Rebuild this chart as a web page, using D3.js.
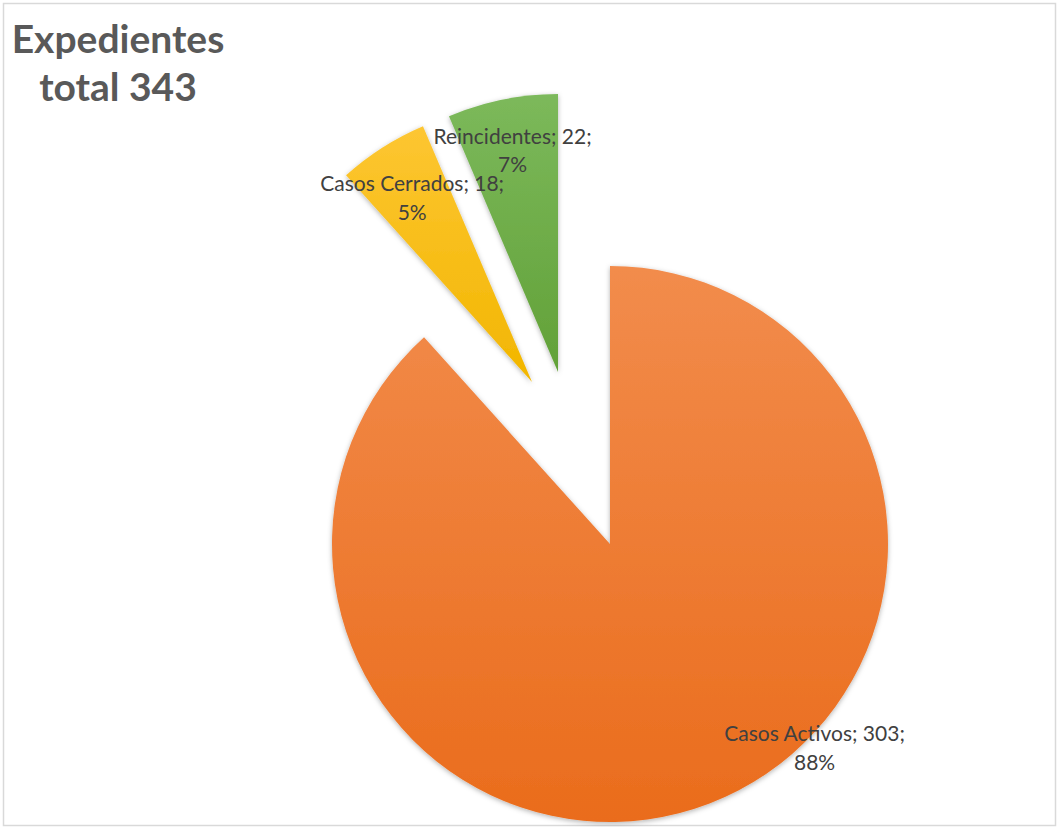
<!DOCTYPE html>
<html><head><meta charset="utf-8">
<script src="https://cdn.jsdelivr.net/npm/d3@7"></script>
<style>html,body{margin:0;padding:0;background:#fff;}</style>
</head><body>
<svg id="c" width="1058" height="827"></svg>
<script>
const categories = ["Casos Activos", "Casos Cerrados", "Reincidentes"];
const values = [303, 18, 22];
const percents = ["88%", "5%", "7%"];
const titleLines = ["Expedientes", "total 343"];

// layout (not data)
const W = 1058, H = 827;
const cx = 610, cy = 544, R = 278;
const explode = [[0, 0], [-78, -162], [-52, -172]];
const labelPos = [[134.4, 1.03], [327.4, 0.80], [348.6, 0.826]];
const grads = [["#f28c4c", "#ea6c1c"], ["#fdc632", "#f2b600"], ["#7cb95b", "#62a138"]];

const svg = d3.select("#c");
svg.append("rect").attr("x", 3.5).attr("y", 3.5).attr("width", W - 6).attr("height", H - 5)
  .attr("fill", "#fff").attr("stroke", "#d9d9d9").attr("stroke-width", 1.5);

const defs = svg.append("defs");
grads.forEach((g, i) => {
  const lg = defs.append("linearGradient").attr("id", "g" + i).attr("x1", 0).attr("y1", 0).attr("x2", 0).attr("y2", 1);
  lg.append("stop").attr("offset", "0%").attr("stop-color", g[0]);
  lg.append("stop").attr("offset", "100%").attr("stop-color", g[1]);
});
const f = defs.append("filter").attr("id", "sh").attr("x", "-10%").attr("y", "-10%").attr("width", "130%").attr("height", "130%");
f.append("feDropShadow").attr("dx", 0).attr("dy", 1.5).attr("stdDeviation", 2.5).attr("flood-color", "#000").attr("flood-opacity", 0.3);

svg.append("g").selectAll("text").data(titleLines).join("text")
  .attr("x", 118).attr("y", (d, i) => 53 + i * 48)
  .attr("text-anchor", "middle")
  .attr("font-family", "Lato, 'Open Sans', sans-serif").attr("font-weight", "bold")
  .attr("font-size", 39).attr("fill", "#595959").text(d => d);

const pie = d3.pie().sort(null).value(d => d);
const arcs = pie(values);
const arc = d3.arc().innerRadius(0).outerRadius(R);

const g = svg.append("g").attr("transform", `translate(${cx},${cy})`);
g.selectAll("path").data(arcs).join("path")
  .attr("transform", (d, i) => `translate(${explode[i][0]},${explode[i][1]})`)
  .attr("d", arc)
  .attr("fill", (d, i) => `url(#g${i})`)
  .attr("filter", "url(#sh)");

const lbl = g.append("g").selectAll("text").data(arcs).join("text")
  .attr("transform", (d, i) => {
    const a = labelPos[i][0] * Math.PI / 180, r = labelPos[i][1] * R;
    return `translate(${explode[i][0] + r * Math.sin(a)},${explode[i][1] - r * Math.cos(a)})`;
  })
  .attr("text-anchor", "middle")
  .attr("font-family", "Lato, 'Open Sans', sans-serif")
  .attr("font-size", 21).attr("fill", "#404040");
lbl.append("tspan").attr("x", 0).attr("dy", "-0.15em")
  .text((d, i) => `${categories[i]}; ${values[i]};`);
lbl.append("tspan").attr("x", 0).attr("dy", "1.35em")
  .text((d, i) => percents[i]);
</script>
</body></html>
